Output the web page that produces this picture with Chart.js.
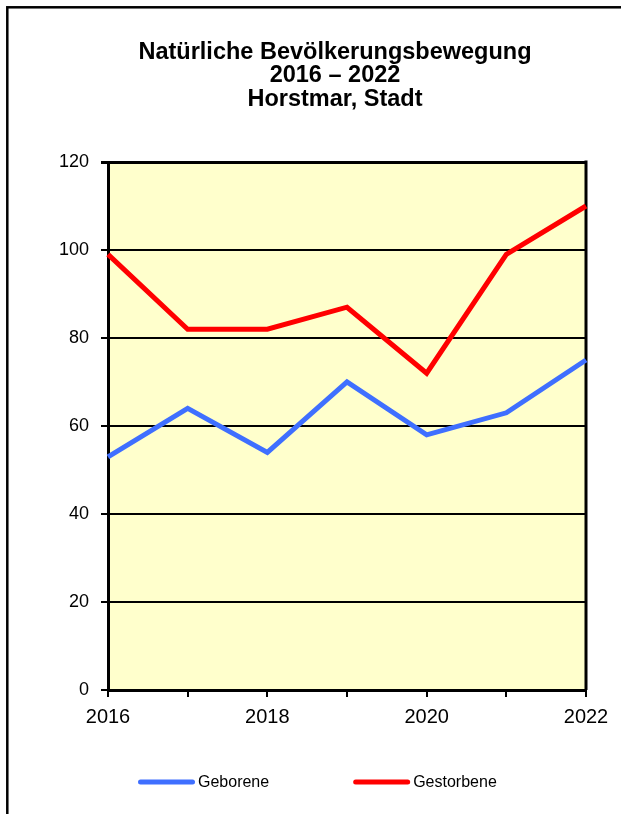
<!DOCTYPE html>
<html>
<head>
<meta charset="utf-8">
<script src="https://cdn.jsdelivr.net/npm/chart.js@4"></script>
<style>
  html, body { margin: 0; padding: 0; background: #fff; }
  #wrap { width: 621px; height: 814px; position: relative; }
</style>
</head>
<body>
<div id="wrap"><canvas id="chart"></canvas></div>
<script>
const years = ["2016", "2017", "2018", "2019", "2020", "2021", "2022"];
const geborene = [53, 64, 54, 70, 58, 63, 75];
const gestorbene = [99, 82, 82, 87, 72, 99, 110];
const titleLines = ["Natürliche Bevölkerungsbewegung", "2016 – 2022", "Horstmar, Stadt"];

const FONT = "'Liberation Sans', Arial, sans-serif";

// yellow plot background, plot frame and outer frame
const framePlugin = {
    id: "frame",
    afterLayout(chart) {
        // the original title is centred a bit right of the canvas middle
        if (chart.titleBlock) chart.titleBlock.left = 84;
    },
    beforeDraw(chart) {
        const ctx = chart.ctx;
        const a = chart.chartArea;
        ctx.save();
        ctx.fillStyle = "#fff";
        ctx.fillRect(0, 0, chart.width, chart.height);
        ctx.strokeStyle = "#000";
        ctx.lineWidth = 2.5;
        ctx.strokeRect(7.3, 7.3, 700, 900);
        ctx.fillStyle = "#FFFFCC";
        ctx.fillRect(a.left, a.top, a.right - a.left, a.bottom - a.top);
        ctx.restore();
    },
    beforeDatasetsDraw(chart) {
        const ctx = chart.ctx;
        const a = chart.chartArea;
        ctx.save();
        ctx.strokeStyle = "#000";
        ctx.lineWidth = 3;
        ctx.beginPath();
        ctx.moveTo(a.right, a.top - 1.5);
        ctx.lineTo(a.right, a.bottom);
        ctx.stroke();
        ctx.restore();
    }
};

// legend below the plot: line sample + label, like the original
const legendPlugin = {
    id: "lineLegend",
    afterDraw(chart) {
        const ctx = chart.ctx;
        const a = chart.chartArea;
        const y = a.bottom + 92;
        const lineLen = 52;
        const gap = 84;
        let x = a.left + 30;
        ctx.save();
        ctx.font = "16px " + FONT;
        ctx.textBaseline = "middle";
        chart.data.datasets.forEach(ds => {
            ctx.strokeStyle = ds.borderColor;
            ctx.lineWidth = 5;
            ctx.lineCap = "round";
            ctx.beginPath();
            ctx.moveTo(x + 2.5, y);
            ctx.lineTo(x + 2.5 + lineLen, y);
            ctx.stroke();
            ctx.fillStyle = "#000";
            ctx.fillText(ds.label, x + lineLen + 8, y + 1);
            x += lineLen + 8 + ctx.measureText(ds.label).width + gap;
        });
        ctx.restore();
    }
};

new Chart(document.getElementById("chart"), {
    type: "line",
    data: {
        labels: years,
        datasets: [
            {
                label: "Geborene",
                data: geborene,
                borderColor: "#3F6FFF",
                backgroundColor: "#3F6FFF",
                borderWidth: 5,
                pointRadius: 0,
                tension: 0,
                clip: false
            },
            {
                label: "Gestorbene",
                data: gestorbene,
                borderColor: "#FF0000",
                backgroundColor: "#FF0000",
                borderWidth: 5,
                pointRadius: 0,
                tension: 0,
                clip: false
            }
        ]
    },
    options: {
        responsive: true,
        maintainAspectRatio: false,
        animation: false,
        layout: { padding: { left: 0, right: 35, top: 0, bottom: 84 } },
        plugins: {
            title: {
                display: true,
                text: titleLines,
                color: "#000",
                font: { family: FONT, size: 23.5, weight: "bold", lineHeight: 1.0 },
                padding: { top: 40.5, bottom: 51 }
            },
            legend: { display: false },
            tooltip: { enabled: false }
        },
        scales: {
            x: {
                type: "category",
                offset: false,
                grid: {
                    drawOnChartArea: false,
                    drawTicks: true,
                    tickLength: 7,
                    color: "#000",
                    lineWidth: 2
                },
                border: { display: true, color: "#000", width: 3 },
                ticks: {
                    autoSkip: false,
                    maxRotation: 0,
                    padding: 8,
                    color: "#000",
                    font: { family: FONT, size: 20 },
                    callback(value, index) {
                        return index % 2 === 0 ? this.getLabelForValue(value) : "";
                    }
                },
                afterFit(scale) { scale.height = 40; }
            },
            y: {
                min: 0,
                max: 120,
                ticks: {
                    stepSize: 20,
                    padding: 12,
                    color: "#000",
                    font: { family: FONT, size: 18 }
                },
                grid: {
                    color: "#000",
                    lineWidth: ctx => (ctx.tick && ctx.tick.value === 120 ? 3 : 2),
                    tickLength: 7
                },
                border: { display: true, color: "#000", width: 3 },
                afterFit(scale) { scale.width = 108; }
            }
        }
    },
    plugins: [framePlugin, legendPlugin]
});
</script>
</body>
</html>
